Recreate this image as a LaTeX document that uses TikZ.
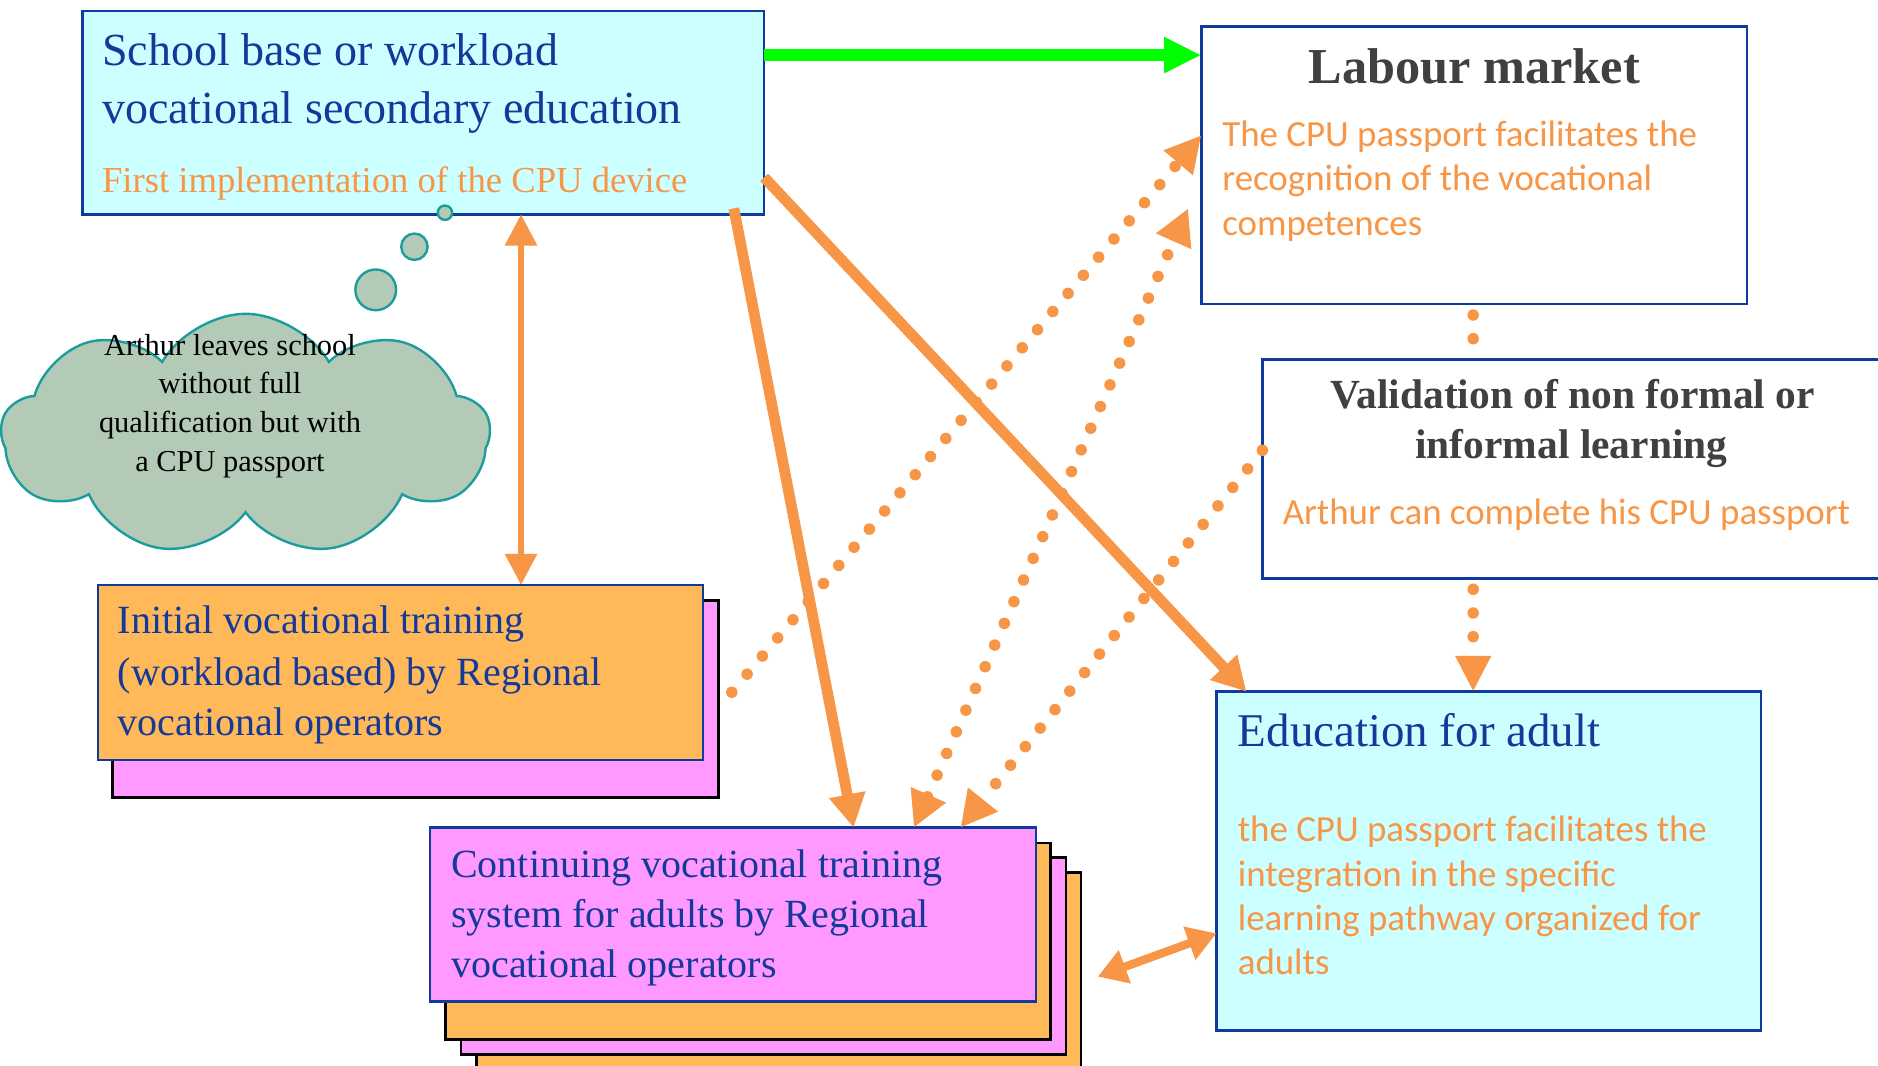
\documentclass[tikz,border=0pt]{standalone}
\usepackage{fontspec}
\setmainfont{Liberation Serif}
\newfontfamily\carl{Carlito}
\usetikzlibrary{arrows.meta,shapes.symbols}
\definecolor{tblue}{HTML}{13399A}
\definecolor{bblue}{HTML}{0F3A9E}
\definecolor{orange1}{HTML}{F79646}
\definecolor{boxorange}{HTML}{FFB958}
\definecolor{boxpink}{HTML}{FF99FF}
\definecolor{boxcyan}{HTML}{CCFFFF}
\definecolor{cloudfill}{HTML}{B3CBB6}
\definecolor{cloudline}{HTML}{1D9C9C}
\definecolor{tgray}{HTML}{404040}
\definecolor{green1}{HTML}{00FF00}
\begin{document}
\begin{tikzpicture}[x=0.5pt,y=-0.5pt,
  box/.style={draw=bblue,line width=1pt,anchor=north west,inner sep=0pt,outer sep=0pt},
  backbox/.style={draw=black,line width=1pt,anchor=north west,inner sep=0pt,outer sep=0pt},
  lw/.style={anchor=base west,inner sep=0pt,outer sep=0pt},
  lc/.style={anchor=base,inner sep=0pt,outer sep=0pt},
  titleblue/.style={text=tblue,font=\fontsize{19.2pt}{23pt}\selectfont},
  edutitle/.style={text=tblue,font=\fontsize{19.6pt}{23pt}\selectfont},
  bodyblue/.style={text=tblue,font=\fontsize{16.7pt}{20pt}\selectfont},
  orserif/.style={text=orange1,font=\fontsize{15.3pt}{18pt}\selectfont},
  orsans/.style={text=orange1,font=\carl\fontsize{15.4pt}{18pt}\selectfont},
  bigbold/.style={text=tgray,font=\bfseries\fontsize{21pt}{25pt}\selectfont},
  midbold/.style={text=tgray,font=\bfseries\fontsize{17.3pt}{21pt}\selectfont},
  cloudtxt/.style={text=black,font=\fontsize{12.7pt}{15pt}\selectfont},
  bubble/.style={draw=cloudline,fill=cloudfill,line width=1pt,circle,inner sep=0pt},
  solidarrow/.style={draw=orange1,line width=4.5pt,-{Triangle[length=14pt,width=14.5pt]}},
  dotline/.style={draw=orange1,line width=4.8pt,line cap=round,dash pattern=on 0pt off 9.9pt},
]
\useasboundingbox (0,0) rectangle (1568,890);
\fill[white] (0,0) rectangle (1568,890);
\clip (0,0) rectangle (1568,890);

% ---- boxes ----
\node[box,fill=boxcyan,minimum width=284.5pt,minimum height=85pt] (top) at (69,9) {};
\node[box,fill=white,minimum width=227.75pt,minimum height=116pt] (labour) at (1003,22) {};
\node[box,fill=white,minimum width=273pt,minimum height=91.5pt] (valid) at (1054,300) {};
\node[box,fill=boxcyan,minimum width=227.35pt,minimum height=141.5pt] (edu) at (1015.6,577.5) {};

\node[backbox,fill=boxpink,minimum width=252.9pt,minimum height=82.1pt] (initsh) at (94,501.5) {};
\node[box,fill=boxorange,minimum width=252.5pt,minimum height=73.1pt] (init) at (81.7,488.4) {};

\node[backbox,fill=boxorange,minimum width=252.2pt,minimum height=88pt] (cs3) at (398,728.6) {};
\node[backbox,fill=boxpink,minimum width=252.5pt,minimum height=82.15pt] (cs2) at (385,716) {};
\node[backbox,fill=boxorange,minimum width=252.5pt,minimum height=82.1pt] (cs1) at (372,703.6) {};
\node[box,fill=boxpink,minimum width=253pt,minimum height=72.65pt] (cont) at (359,691) {};

% ---- cloud ----
\node[cloud,cloud puffs=9,cloud puff arc=120,aspect=2,draw=cloudline,fill=cloudfill,line width=1pt,
      minimum width=204pt,minimum height=101pt,inner sep=0pt] (cloud) at (205,363) {};
\node[bubble,minimum size=17pt] (b3) at (313.7,242) {};
\node[bubble,minimum size=11pt] (b2) at (346,206) {};
\node[bubble,minimum size=6pt] (b1) at (371.5,177.6) {};

% ---- texts ----
\node[lw,titleblue] (t1) at (85.2,54.3) {School base or workload};
\node[lw,titleblue] (t2) at (85.2,103) {vocational secondary education};
\node[lw,orserif] (t3) at (85.2,161) {First implementation of the CPU device};

\node[lc,bigbold] (l0) at (1231,70) {Labour market};
\node[lw,orsans] (l1) at (1020.6,122.5) {The CPU passport facilitates the};
\node[lw,orsans] (l2) at (1020.6,159.2) {recognition of the vocational};
\node[lw,orsans] (l3) at (1020.6,196.2) {competences};

\node[lc,midbold] (v1) at (1313,341) {Validation of non formal or};
\node[lc,midbold] (v2) at (1312,382.7) {informal learning};
\node[lw,orsans] (v3) at (1071,437.8) {Arthur can complete his CPU passport};

\node[lw,edutitle] (e0) at (1033.5,622.9) {Education for adult};
\node[lw,orsans] (e1) at (1033.5,702.7) {the CPU passport facilitates the};
\node[lw,orsans] (e2) at (1033.5,739.8) {integration in the specific};
\node[lw,orsans] (e3) at (1033.5,777) {learning pathway organized for};
\node[lw,orsans] (e4) at (1033.5,814) {adults};

\node[lw,bodyblue] (i1) at (98.5,529.3) {Initial vocational training};
\node[lw,bodyblue] (i2) at (98.5,572) {(workload based) by Regional};
\node[lw,bodyblue] (i3) at (98.5,613.7) {vocational operators};

\node[lw,bodyblue] (c1) at (376.8,732.5) {Continuing vocational training};
\node[lw,bodyblue] (c2) at (376.8,774.5) {system for adults by Regional};
\node[lw,bodyblue] (c3) at (376.8,816) {vocational operators};

\node[lc,cloudtxt] (k1) at (192,297.2) {Arthur leaves school};
\node[lc,cloudtxt] (k2) at (192,328.4) {without full};
\node[lc,cloudtxt] (k3) at (192,361.2) {qualification but with};
\node[lc,cloudtxt] (k4) at (192,393.8) {a CPU passport};

% ---- connectors ----
\coordinate (t1s) at (612.7,174);
\coordinate (d1s) at (611,578);
\coordinate (d2e) at (992,174);
\coordinate (sda) at (916.6,815.4);

\draw[draw=green1,line width=5pt,-{Triangle[length=15.5pt,width=14pt]}] (top.east |- 0,46) -- (labour.west |- 0,46);
\draw[draw=orange1,line width=2.4pt,{Triangle[length=13pt,width=13pt]}-{Triangle[length=13pt,width=13pt]}] (435,0 |- top.south) -- (435,0 |- init.north);
\draw[solidarrow] (t1s) -- (712.7,0 |- cont.north);
\draw[solidarrow] (top.east |- 0,148) -- (1040.7,0 |- edu.north);

\draw[dotline,-{Triangle[length=15pt,width=15pt]}] (d1s) -- (labour.west |- 0,113);
\draw[dotline,{Triangle[length=15pt,width=15pt]}-{Triangle[length=15pt,width=15pt]}] (763,0 |- cont.north) -- (d2e);
\draw[dotline,-{Triangle[length=15pt,width=15pt]}] (valid.west |- 0,376) -- (802,0 |- cont.north);
\draw[dotline] ([yshift=-4.5pt]labour.south -| 1230,0) -- (1230,0 |- valid.north);
\draw[dotline,-{Triangle[length=15pt,width=14pt]}] ([yshift=-4.5pt]valid.south -| 1230,0) -- (1230,0 |- edu.north);
\draw[draw=orange1,line width=3.5pt,{Triangle[length=12pt,width=14pt]}-{Triangle[length=12pt,width=14pt]}] (sda) -- (edu.west |- 0,779.3);
\end{tikzpicture}
\end{document}
